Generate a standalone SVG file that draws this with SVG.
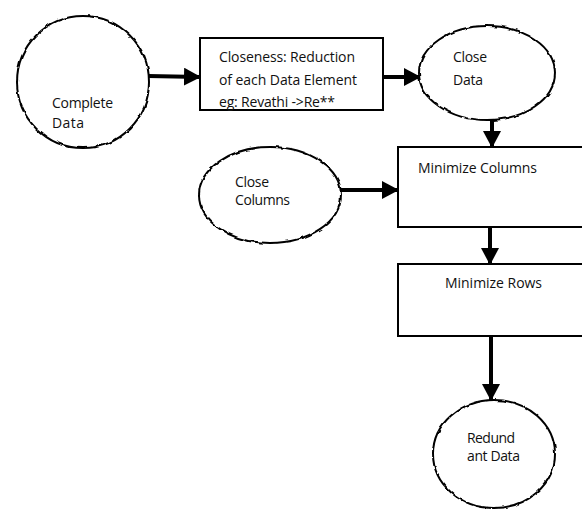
<svg xmlns="http://www.w3.org/2000/svg" width="582" height="509" viewBox="0 0 582 509">
<style>
.shape{fill:#fff;stroke:#000;stroke-width:2}
.wavy{filter:url(#wave)}
.t{font-family:"Open Sans","Liberation Sans",sans-serif;font-size:14px;fill:#111}
.conn{stroke:#000;stroke-width:4;fill:none;marker-end:url(#head)}
</style>
<defs>
<marker id="head" markerUnits="userSpaceOnUse" markerWidth="17" markerHeight="18" refX="16" refY="9" orient="auto">
<path d="M0,0 L17,9 L0,18 z" fill="#000"/>
</marker>
<filter id="wave" x="-10%" y="-10%" width="120%" height="120%">
<feTurbulence type="fractalNoise" baseFrequency="0.14" numOctaves="1" seed="4" result="n"/>
<feDisplacementMap in="SourceGraphic" in2="n" scale="3.5" xChannelSelector="R" yChannelSelector="G"/>
</filter>
</defs>
<rect width="582" height="509" fill="#fff"/>
<g id="connectors">
<line class="conn" x1="148" y1="76" x2="200" y2="77"/>
<line class="conn" x1="383" y1="77" x2="420" y2="77"/>
<line class="conn" x1="492" y1="119" x2="492" y2="147"/>
<line class="conn" x1="340" y1="190" x2="398" y2="190"/>
<line class="conn" x1="490" y1="227" x2="490" y2="264"/>
<line class="conn" x1="491" y1="336" x2="491" y2="400"/>
</g>
<g id="complete-data">
<ellipse class="shape wavy" cx="83" cy="82" rx="66" ry="66"/>
<text class="t" x="52" y="108" textLength="61">Complete</text>
<text class="t" x="52" y="128" textLength="32">Data</text>
</g>
<g id="closeness">
<rect class="shape" x="200" y="38" width="183" height="72"/>
<text class="t" x="219" y="62" textLength="136">Closeness: Reduction</text>
<text class="t" x="219" y="85" textLength="138">of each Data Element</text>
<text class="t" x="219" y="107" textLength="116">eg: Revathi -&gt;Re**</text>
</g>
<g id="close-data">
<ellipse class="shape wavy" cx="487" cy="73" rx="68" ry="47"/>
<text class="t" x="453" y="62" textLength="34">Close</text>
<text class="t" x="453" y="85" textLength="30">Data</text>
</g>
<g id="close-columns">
<ellipse class="shape wavy" cx="270" cy="195" rx="71" ry="48"/>
<text class="t" x="235" y="187" textLength="34">Close</text>
<text class="t" x="235" y="205" textLength="55">Columns</text>
</g>
<g id="minimize-columns">
<rect class="shape" x="398" y="147" width="200" height="80"/>
<text class="t" x="418" y="173" textLength="119">Minimize Columns</text>
</g>
<g id="minimize-rows">
<rect class="shape" x="398" y="264" width="200" height="72"/>
<text class="t" x="445" y="288" textLength="97">Minimize Rows</text>
</g>
<g id="redundant-data">
<ellipse class="shape wavy" cx="494" cy="454" rx="61" ry="54"/>
<text class="t" x="467" y="443" textLength="48">Redund</text>
<text class="t" x="467" y="461" textLength="53">ant Data</text>
</g>
</svg>
